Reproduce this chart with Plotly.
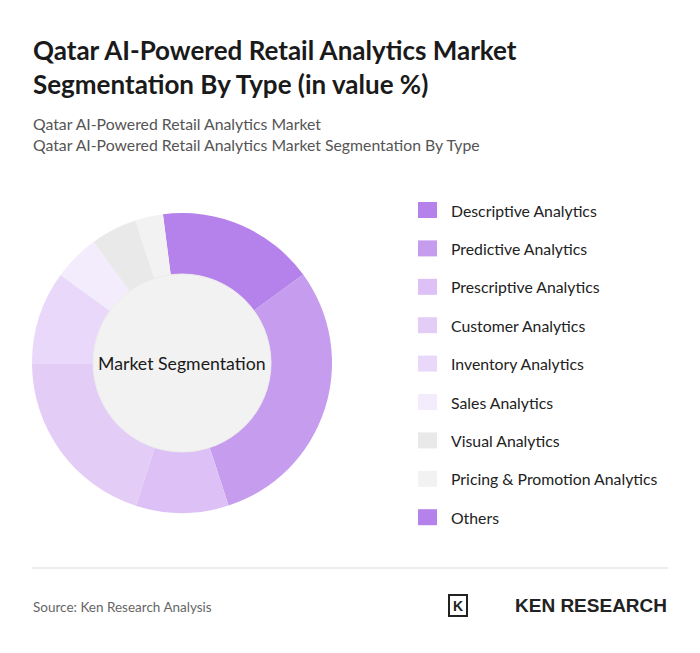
import plotly.graph_objects as go

W, H = 700, 653
OFF = 8  # page body margin

labels = ['Descriptive Analytics', 'Predictive Analytics', 'Prescriptive Analytics',
          'Customer Analytics', 'Inventory Analytics', 'Sales Analytics',
          'Visual Analytics', 'Pricing & Promotion Analytics', 'Others']
values = [17, 30, 10, 20, 10, 5, 5, 3, 0]
colours = ['#b581ea', '#c59cee', '#dcc0f6', '#e3cdf7', '#e9d8f9',
           '#f3ecfc', '#e9e9e9', '#f2f2f2', '#b581ea']


def px(x):
    return (x - OFF) / W


def py(y):
    return 1 - (y - OFF) / H


fig = go.Figure()
fig.add_trace(go.Pie(
    labels=labels, values=values, hole=0.59, sort=False,
    direction='clockwise', rotation=-7.3,
    marker=dict(colors=colours, line=dict(width=0)),
    textinfo='none', hoverinfo='label+percent', showlegend=False,
    domain=dict(x=[px(32), px(332)], y=[py(513), py(213)]),
))

shapes = [
    # centre disc
    dict(type='circle', xref='paper', yref='paper', layer='above',
         x0=px(182 - 89), x1=px(182 + 89), y0=py(363 + 89), y1=py(363 - 89),
         fillcolor='#f2f2f2', line=dict(color='#ececec', width=1)),
    # footer rule
    dict(type='line', xref='paper', yref='paper',
         x0=px(32), x1=px(668), y0=py(568), y1=py(568),
         line=dict(color='#d9d9d9', width=1)),
]
annotations = [
    dict(text='<b>Qatar AI-Powered Retail Analytics Market<br>Segmentation By Type (in value %)</b>',
         x=px(31), y=py(32), xanchor='left', yanchor='top', align='left',
         font=dict(size=26, color='#1a1a1a', family='Lato')),
    dict(text='Qatar AI-Powered Retail Analytics Market<br>Qatar AI-Powered Retail Analytics Market Segmentation By Type',
         x=px(31), y=py(112), xanchor='left', yanchor='top', align='left',
         font=dict(size=15.8, color='#555555', family='Lato')),
    dict(text='Market Segmentation', x=px(182), y=py(363), xanchor='center', yanchor='middle',
         font=dict(size=17.7, color='#1a1a1a', family='Lato')),
    dict(text='Source: Ken Research Analysis', x=px(31), y=py(607), xanchor='left', yanchor='middle',
         font=dict(size=13.5, color='#666666', family='Lato')),
    dict(text='<b>KEN RESEARCH</b>', x=px(669), y=py(605), xanchor='right', yanchor='middle',
         font=dict(size=19, color='#222222', family='Liberation Sans')),
]

# hand-drawn legend
for i, (lab, col) in enumerate(zip(labels, colours)):
    yc = 210 + i * 38.4
    shapes.append(dict(type='rect', xref='paper', yref='paper',
                       x0=px(418), x1=px(437), y0=py(yc + 8), y1=py(yc - 8),
                       fillcolor=col, line=dict(width=0)))
    annotations.append(dict(text=lab, x=px(449), y=py(yc), xanchor='left', yanchor='middle',
                            showarrow=False, font=dict(size=15.8, color='#222222', family='Lato')))

# logo mark
shapes.append(dict(type='rect', xref='paper', yref='paper',
                   x0=px(449), x1=px(467), y0=py(616), y1=py(595),
                   fillcolor='white', line=dict(color='#222222', width=2)))
annotations.append(dict(text='<b>K</b>', x=px(458), y=py(606), xanchor='center', yanchor='middle',
                        showarrow=False, font=dict(size=14, color='#222222', family='Liberation Sans')))

for a in annotations:
    a.setdefault('showarrow', False)
    a['xref'] = 'paper'
    a['yref'] = 'paper'

fig.update_layout(
    width=W, height=H, margin=dict(l=0, r=0, t=0, b=0),
    paper_bgcolor='white', plot_bgcolor='white',
    shapes=shapes, annotations=annotations,
)

fig.write_html('out.html')
